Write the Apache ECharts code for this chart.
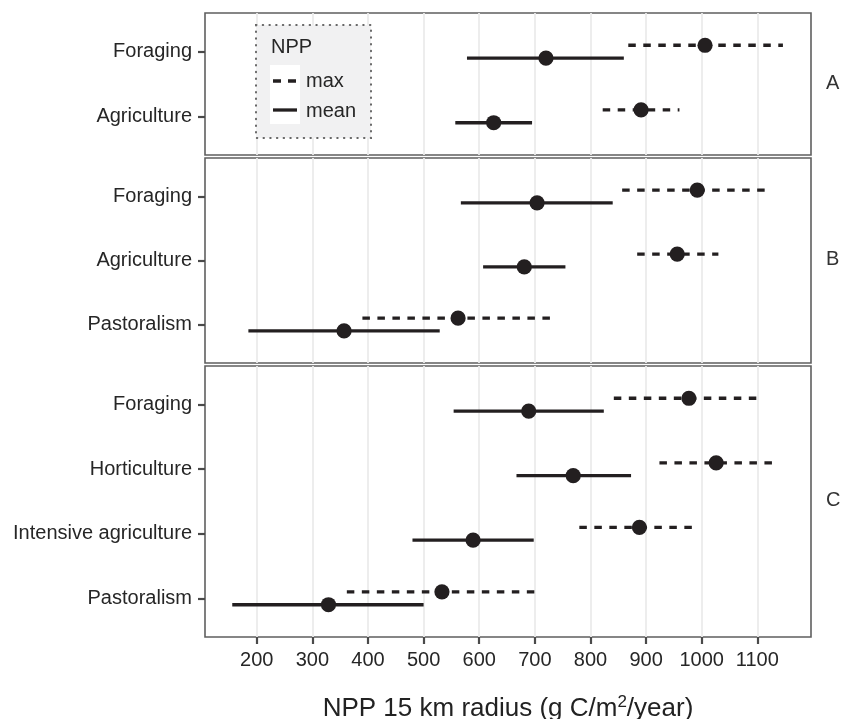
<!DOCTYPE html>
<html>
<head>
<meta charset="utf-8">
<script src="https://cdn.jsdelivr.net/npm/echarts@6/dist/echarts.min.js"></script>
<style>
  html, body { margin: 0; padding: 0; background: #fff; }
  #chart { width: 843px; height: 719px; }
</style>
</head>
<body>
<div id="chart"></div>
<script>
// categories per panel (top to bottom)
var catsA = ['Foraging', 'Agriculture'];
var catsB = ['Foraging', 'Agriculture', 'Pastoralism'];
var catsC = ['Foraging', 'Horticulture', 'Intensive agriculture', 'Pastoralism'];
var panelNames = ['A', 'B', 'C'];

// NPP max: lower, estimate, upper
var maxLoA = [868, 822];
var maxEstA = [1006, 891];
var maxHiA = [1146, 960];
// NPP mean
var meanLoA = [578, 557];
var meanEstA = [720, 626];
var meanHiA = [860, 695];

var maxLoB = [857, 884, 390];
var maxEstB = [992, 956, 562];
var maxHiB = [1117, 1030, 734];
var meanLoB = [567, 607, 185];
var meanEstB = [704, 681, 357];
var meanHiB = [840, 755, 529];

var maxLoC = [842, 924, 780, 362];
var maxEstC = [977, 1026, 888, 533];
var maxHiC = [1102, 1129, 985, 704];
var meanLoC = [554, 667, 480, 156];
var meanEstC = [689, 769, 589, 329];
var meanHiC = [824, 873, 698, 500];

var xTicks = [200, 300, 400, 500, 600, 700, 800, 900, 1000, 1100];

var ink = '#231f20';
var font = '"Liberation Sans", Arial, Helvetica, sans-serif';

function rows(lo, est, hi) {
    return lo.map(function (v, i) { return [v, est[i], hi[i], i]; });
}

function render(offset, dashed) {
    return function (params, api) {
        var y = api.value(3) + offset;
        var a = api.coord([api.value(0), y]);
        var b = api.coord([api.value(2), y]);
        var m = api.coord([api.value(1), y]);
        return {
            type: 'group',
            children: [
                { type: 'line', shape: { x1: a[0], y1: a[1], x2: b[0], y2: b[1] },
                  style: { stroke: ink, lineWidth: 3.3, lineDash: dashed ? [7.5, 7.5] : null, lineCap: 'butt' } },
                { type: 'circle', shape: { cx: m[0], cy: m[1], r: 7.6 }, style: { fill: ink } }
            ]
        };
    };
}

var panels = [
    { cats: catsA, top: 13, height: 142, max: rows(maxLoA, maxEstA, maxHiA), mean: rows(meanLoA, meanEstA, meanHiA) },
    { cats: catsB, top: 158, height: 205, max: rows(maxLoB, maxEstB, maxHiB), mean: rows(meanLoB, meanEstB, meanHiB) },
    { cats: catsC, top: 366, height: 271, max: rows(maxLoC, maxEstC, maxHiC), mean: rows(meanLoC, meanEstC, meanHiC) }
];

var grids = [], xAxes = [], yAxes = [], series = [], graphics = [];

panels.forEach(function (p, k) {
    var last = k === panels.length - 1;
    grids.push({ left: 205, width: 606, top: p.top, height: p.height, show: true,
                 outerBoundsMode: 'none', containLabel: false,
                 borderColor: '#5f5f5f', borderWidth: 1.6, backgroundColor: 'transparent' });
    xAxes.push({
        type: 'value', gridIndex: k, min: 107, max: 1196.5, splitNumber: 10, position: 'bottom',
        axisLine: { show: false, onZero: false },
        splitLine: { show: true, lineStyle: { color: '#ebebeb', width: 1.8 } },
        axisTick: { show: last, customValues: xTicks, length: 7, lineStyle: { color: '#4a4a4a', width: 2.2 } },
        axisLabel: { show: last, customValues: xTicks, margin: 13, fontSize: 20, color: '#262626', fontFamily: font,
                     formatter: function (v) { return String(v); } },
        name: last ? 'NPP 15 km radius (g C/m{sup|2}/year)' : '',
        nameLocation: 'middle', nameGap: 57,
        nameTextStyle: { fontSize: 26, color: '#222', fontFamily: font,
            rich: { sup: { fontSize: 17, fontFamily: font, color: '#222', verticalAlign: 'top', padding: [0, 0, 12, 0] } } }
    });
    var idx = p.cats.map(function (c, i) { return i; });
    yAxes.push({
        type: 'value', gridIndex: k, inverse: true, min: -0.6, max: p.cats.length - 0.4,
        axisLine: { show: false, onZero: false }, splitLine: { show: false },
        axisTick: { show: true, customValues: idx, length: 7, lineStyle: { color: '#4a4a4a', width: 2.2 } },
        axisLabel: { customValues: idx, margin: 13, fontSize: 20, color: '#262626', fontFamily: font,
                     formatter: function (v) { return p.cats[Math.round(v)]; } }
    });
    series.push({ type: 'custom', xAxisIndex: k, yAxisIndex: k, data: p.max,
                  encode: { x: [0, 1, 2], y: 3 }, renderItem: render(-0.1, true) });
    series.push({ type: 'custom', xAxisIndex: k, yAxisIndex: k, data: p.mean,
                  encode: { x: [0, 1, 2], y: 3 }, renderItem: render(0.1, false) });
    graphics.push({ type: 'text', left: 826, top: p.top + p.height / 2 - 11,
                    style: { text: panelNames[k], fontSize: 20, fill: '#333', fontFamily: font } });
});

// legend box for NPP line types
graphics.push(
    { type: 'rect', shape: { x: 256, y: 25, width: 115, height: 113 }, z: 10,
      style: { fill: '#f1f1f2', stroke: '#666', lineWidth: 2, lineDash: [0.5, 6.2], lineCap: 'round' } },
    { type: 'text', x: 271, y: 47, z: 11,
      style: { text: 'NPP', fontSize: 20, fill: '#262626', fontFamily: font, verticalAlign: 'middle' } },
    { type: 'rect', shape: { x: 270, y: 65, width: 30, height: 59 }, z: 11, style: { fill: '#fff' } },
    { type: 'line', shape: { x1: 273, y1: 81, x2: 297, y2: 81 }, z: 12,
      style: { stroke: ink, lineWidth: 3.3, lineDash: [8, 7] } },
    { type: 'line', shape: { x1: 273, y1: 110, x2: 297, y2: 110 }, z: 12,
      style: { stroke: ink, lineWidth: 3.3 } },
    { type: 'text', x: 306, y: 81, z: 12,
      style: { text: 'max', fontSize: 20, fill: '#262626', fontFamily: font, verticalAlign: 'middle' } },
    { type: 'text', x: 306, y: 111, z: 12,
      style: { text: 'mean', fontSize: 20, fill: '#262626', fontFamily: font, verticalAlign: 'middle' } }
);

var myChart = echarts.init(document.getElementById('chart'));
myChart.setOption({
    animation: false,
    backgroundColor: '#fff',
    grid: grids,
    xAxis: xAxes,
    yAxis: yAxes,
    series: series,
    graphic: graphics
});
</script>
</body>
</html>
